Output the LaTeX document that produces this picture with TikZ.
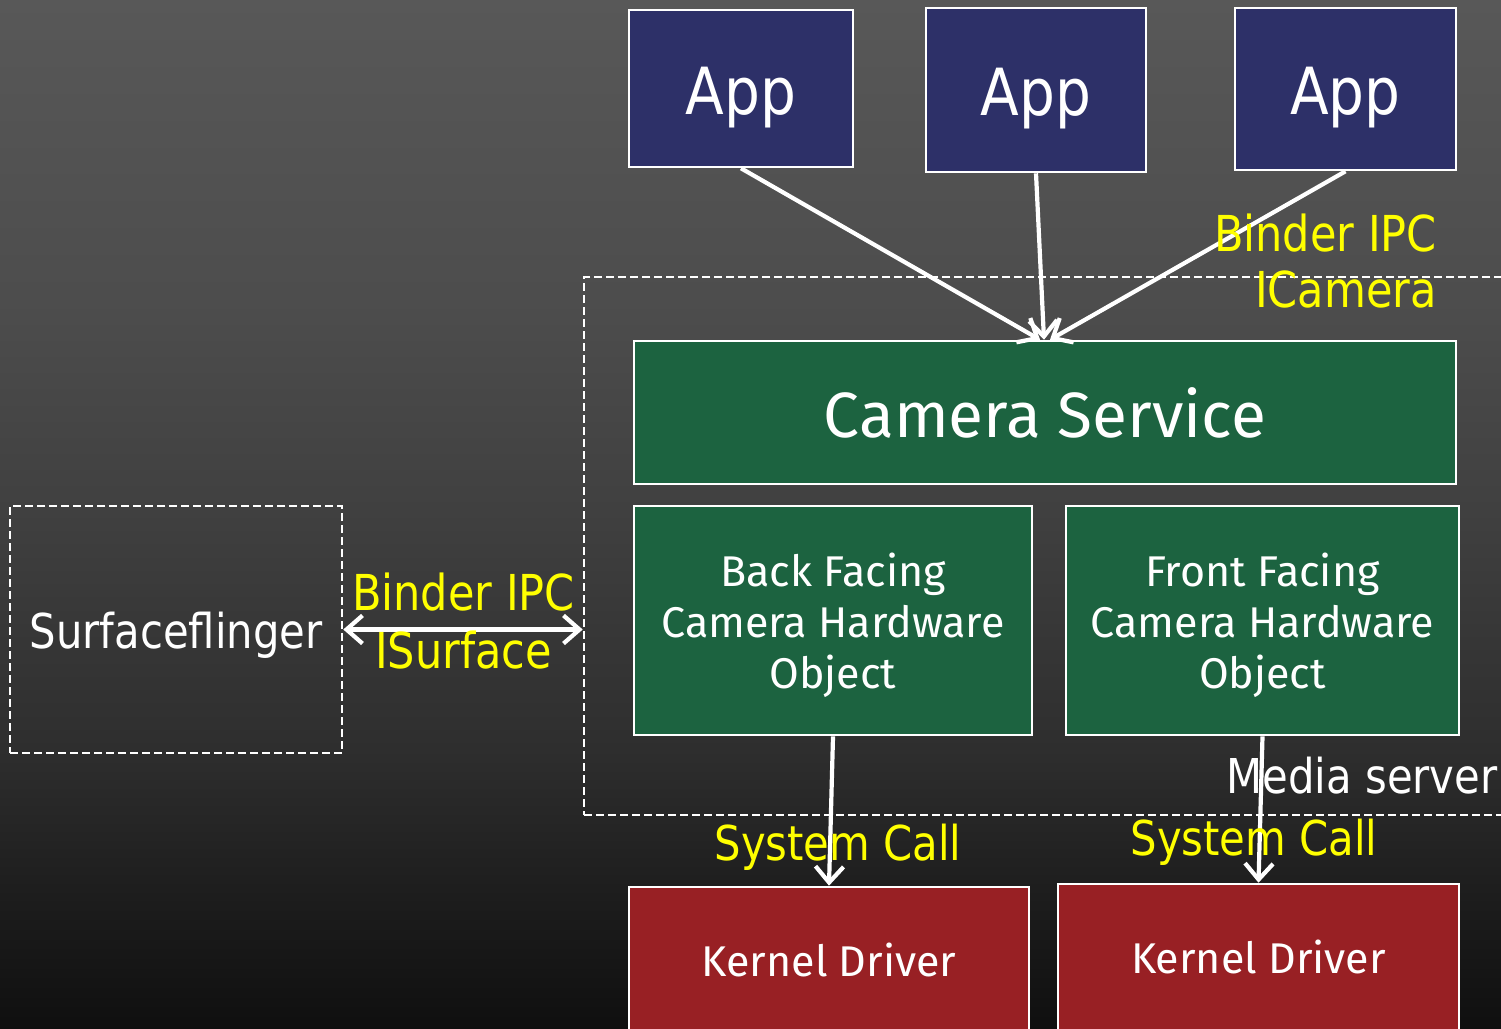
\documentclass[tikz,border=0pt]{standalone}
\usepackage{fontspec}
\usetikzlibrary{arrows.meta}
\newfontfamily\tah{DejaVu Sans}[FakeStretch=0.87]
\newfontfamily\hum{Fira Sans}
\definecolor{appblue}{HTML}{2D3068}
\definecolor{svcgreen}{HTML}{1C6340}
\definecolor{drvred}{HTML}{982024}
\definecolor{lbl}{HTML}{FFFF00}
% vertical backdrop: the drawn area maps onto 25bp..75bp of the shading
\pgfdeclareverticalshading{backdrop}{100bp}{%
  color(0bp)=(black!94); color(25bp)=(black!94); color(31bp)=(black!89);
  color(38.5bp)=(black!82); color(50bp)=(black!75); color(60bp)=(black!70);
  color(75bp)=(black!65.5); color(100bp)=(black!65.5)}
\tikzset{
  box/.style={draw=white, line width=2.6pt, inner sep=0pt, text=white, align=center},
  appbox/.style={box, fill=appblue, font=\tah\fontsize{65}{70}\selectfont,
                 text height=51pt, text depth=0pt},
  svcbox/.style={box, fill=svcgreen, font=\hum\fontsize{64}{70}\selectfont,
                 text height=49pt, text depth=0pt},
  hwbox/.style={box, fill=svcgreen},
  hwtxt/.style={text=white, inner sep=0pt, align=center, font=\hum\fontsize{43}{51}\selectfont},
  drvbox/.style={box, fill=drvred},
  dashbox/.style={draw=white, line width=2.6pt, dash pattern=on 8pt off 4pt, inner sep=0pt},
  arr/.style={draw=white, line width=4.2pt,
    -{Straight Barb[length=16pt, width=28pt, line width=4.2pt]}},
  darr/.style={draw=white, line width=4.2pt,
    {Straight Barb[length=16pt, width=28pt, line width=4.2pt]}-{Straight Barb[length=16pt, width=28pt, line width=4.2pt]}},
  yel/.style={text=lbl, inner sep=0pt, anchor=base, font=\tah\fontsize{48}{52}\selectfont},
  yelb/.style={yel, font=\tah\fontsize{49.5}{52}\selectfont},
  wlbl/.style={text=white, inner sep=0pt, anchor=base, font=\tah\fontsize{48}{52}\selectfont},
  drvtxt/.style={text=white, inner sep=0pt, anchor=base, font=\hum\fontsize{43}{50}\selectfont}
}
\begin{document}
\begin{tikzpicture}[x=1pt, y=-1pt]
  \useasboundingbox (0,0) rectangle (1501,1028);
  \shade[shading=backdrop] (0,0) rectangle (1501,1028);
  \clip (0,0) rectangle (1501,1028);

  % media server frame and the separate compositor process
  \node[dashbox, minimum width=940pt, minimum height=538pt] (ms) at (1054,546) {};
  \node[dashbox, minimum width=332pt, minimum height=247pt, text=white,
        font=\tah\fontsize{48}{52}\selectfont, text height=37pt, text depth=0pt]
        (sf) at (176,629.5) {Surfaceflinger};

  % client applications
  \node[appbox, minimum width=224pt, minimum height=157pt] (app1) at (741,88.5) {App};
  \node[appbox, minimum width=220pt, minimum height=164pt] (app2) at (1036,90) {App};
  \node[appbox, minimum width=221pt, minimum height=162pt] (app3) at (1345.5,89) {App};

  % camera service and hardware objects
  \node[svcbox, minimum width=822pt, minimum height=143pt] (cs) at (1045,412.5) {Camera Service};
  \node[hwbox, minimum width=398pt, minimum height=229pt] (back) at (833,620.5) {};
  \node[hwbox, minimum width=393pt, minimum height=229pt] (front) at (1262.5,620.5) {};
  \node[hwtxt] (backt) at (833,625.5) {Back Facing\\Camera Hardware\\Object};
  \node[hwtxt] (frontt) at (1262.5,625.5) {Front Facing\\Camera Hardware\\Object};

  % kernel drivers
  \node[drvbox, minimum width=400pt, minimum height=160pt] (kd1) at (829,967) {};
  \node[drvbox, minimum width=401pt, minimum height=164pt] (kd2) at (1258.5,966) {};
  \node[drvtxt] (kd1t) at (829,976) {Kernel Driver};
  \node[drvtxt] (kd2t) at (1258.5,973) {Kernel Driver};

  % binder calls from the apps
  \draw[arr] (app1.south) -- ([xshift=-5pt]cs.north);
  \draw[arr] (app2.south) -- ([xshift=-1pt]cs.north);
  \draw[arr] (app3.south) -- ([xshift=5pt]cs.north);

  % system calls into the drivers
  \draw[arr] (back.south) -- (kd1.north);
  \draw[arr] (front.south) -- (kd2.north);

  % surface IPC
  \draw[darr] (sf.east) -- (sf.east -| ms.west);

  % labels
  \node[yelb, anchor=base east] (bipc1) at (1437,251) {Binder IPC};
  \node[yelb, anchor=base east] (icam) at (1437,307) {ICamera};
  \node[yelb] (bipc2) at (463.5,610) {Binder IPC};
  \node[yelb] (isurf) at (463.5,668) {ISurface};
  \node[yel] (sc1) at (838,860) {System Call};
  \node[yel] (sc2) at (1254,855) {System Call};
  \node[wlbl] (mslbl) at (1362,793) {Media server};
\end{tikzpicture}
\end{document}
